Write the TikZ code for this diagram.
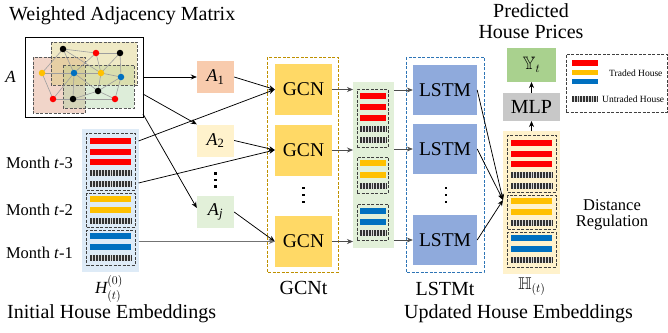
\documentclass[tikz,border=0pt]{standalone}
\usepackage{fontspec}
\usepackage{amssymb}
\setmainfont{Liberation Serif}
\usetikzlibrary{arrows.meta}

\definecolor{tradered}{RGB}{255,0,0}
\definecolor{tradeyel}{RGB}{255,192,0}
\definecolor{tradeblue}{RGB}{0,112,192}
\definecolor{gcnc}{RGB}{255,217,102}
\definecolor{lstmc}{RGB}{143,170,220}
\definecolor{mlpc}{RGB}{200,200,200}
\definecolor{outc}{RGB}{169,209,142}
\definecolor{aone}{RGB}{248,203,173}
\definecolor{atwo}{RGB}{255,242,204}
\definecolor{aj}{RGB}{226,240,217}
\definecolor{lpanel}{RGB}{222,235,247}
\definecolor{mpanel}{RGB}{226,240,217}
\definecolor{rpanel}{RGB}{255,242,204}
\definecolor{gcnline}{RGB}{191,144,0}
\definecolor{lstmline}{RGB}{46,117,182}
\definecolor{regyel}{RGB}{215,200,110}
\definecolor{regpink}{RGB}{220,150,120}
\definecolor{reggreen}{RGB}{170,210,160}

% rectangle node from its top-left and bottom-right corners
\newcommand\rnode[6]{\node[#1,anchor=north west,minimum width={(#5)-(#3)},minimum height={(#6)-(#4)},inner sep=0pt,outer sep=0pt] (#2) at ({#3},{#4}) {};}
% coloured bar: colour, x-left, x-right, y-centre
\newcommand\housebar[4]{\fill[#1] ({#2},{#4-2.8}) rectangle ({#3},{#4+2.8});}
% barcode strip: x-left, y-centre, number of strokes, stroke spacing
\newcommand\housecode[4]{%
  \fill[gray!30] ({#1},{#2-2.8}) rectangle ({#1+#3*#4},{#2+2.8});
  \foreach \k in {0,...,#3} {\draw[black!80,line width=0.55pt] ({#1+\k*#4},{#2-2.8}) -- ++(0,5.6);}}
% large embedding stack: name, panel left x, panel top y, panel colour
\newcommand\bigstack[4]{%
  \rnode{fill=#4}{#1}{#2}{#3}{#2+57}{#3+143}
  \rnode{dbox}{#1a}{#2+4.5}{#3+4}{#2+53}{#3+61}
  \rnode{dbox}{#1b}{#2+4.5}{#3+64}{#2+53}{#3+98}
  \rnode{dbox}{#1c}{#2+4.5}{#3+101}{#2+53}{#3+136}
  \foreach \d in {12,23,33} {\housebar{tradered}{#2+8}{#2+49}{#3+\d}}
  \foreach \d in {70,81} {\housebar{tradeyel}{#2+8}{#2+49}{#3+\d}}
  \foreach \d in {107,118} {\housebar{tradeblue}{#2+8}{#2+49}{#3+\d}}
  \foreach \d in {44,55,92,129} {\housecode{#2+8}{#3+\d}{27}{1.52}}
}

\tikzset{
  arr/.style={-{Stealth[length=6pt,width=5pt]},line width=0.75pt},
  garr/.style={arr,draw=black!70},
  dbox/.style={draw=black!75,dash pattern=on 3pt off 1.5pt,line width=0.9pt},
  regbox/.style={draw=black!65,dash pattern=on 3pt off 1.5pt,line width=1pt,fill opacity=0.4},
  abox/.style={minimum width=37,minimum height=32,inner sep=0pt,font=\fontsize{18}{18}\selectfont},
  gcnbox/.style={fill=gcnc,minimum width=57,minimum height=51,inner sep=0pt,font=\fontsize{19.5}{20}\selectfont},
  lstmbox/.style={fill=lstmc,minimum width=64,minimum height=50,inner sep=0pt,font=\fontsize{19.5}{20}\selectfont},
  biglabel/.style={inner sep=0pt,font=\fontsize{20}{22}\selectfont},
  midlabel/.style={inner sep=0pt,font=\fontsize{16.5}{18}\selectfont},
  smalllabel/.style={inner sep=0pt,font=\fontsize{9.5}{11}\selectfont},
  gedge/.style={draw=black!38,line width=0.6pt},
  gdot/.style={circle,inner sep=0pt,minimum size=6.5pt},
}

\begin{document}
\begin{tikzpicture}[x=1pt,y=-1pt]
\useasboundingbox (0,0) rectangle (668,332);

% ---------- weighted adjacency matrix ----------
\node[biglabel,anchor=base west] (title) at (9,20) {Weighted Adjacency Matrix};
\node[inner sep=0pt,font=\fontsize{17}{17}\selectfont\itshape] (alabel) at (10.5,77) {A};
\node[draw,fill=white,line width=0.8pt,minimum width=118,minimum height=80,inner sep=0pt] (mat) at (84,77) {};
\fill[regbox,fill=regpink] (33,57) rectangle (85,113);
\fill[regbox,fill=reggreen] (63,65) rectangle (134,108);
\fill[regbox,fill=regyel] (51,42) rectangle (137,85);
\draw[dbox,draw=black!65] (33,57) rectangle (85,113);
\draw[dbox,draw=black!65] (63,65) rectangle (134,108);
\draw[dbox,draw=black!65] (51,42) rectangle (137,85);

\coordinate (n1) at (63,49);   \coordinate (n2) at (96,53);
\coordinate (n3) at (120,53);  \coordinate (n4) at (42,73);
\coordinate (n5) at (74,73);   \coordinate (n6) at (101,73);
\coordinate (n7) at (121,77);  \coordinate (n8) at (98,91);
\coordinate (n9) at (53,99);   \coordinate (n10) at (73,99);
\coordinate (n11) at (115,99);
\foreach \a/\b in {n1/n2,n2/n3,n1/n4,n1/n5,n1/n6,n2/n6,n2/n5,n3/n6,n3/n7,
                   n4/n5,n5/n6,n6/n7,n4/n9,n5/n9,n5/n10,n5/n8,n6/n8,n7/n8,
                   n7/n11,n8/n10,n9/n10,n8/n11,n10/n11}
  {\draw[gedge] (\a) -- (\b);}
\foreach \n/\c in {n1/black,n2/tradered,n3/black,n4/tradeyel,n5/tradeblue,n6/tradeyel,
                   n7/tradeblue,n8/black,n9/tradered,n10/black,n11/tradered}
  {\node[gdot,fill=\c] at (\n) {};}

% ---------- per-relation adjacency matrices ----------
\node[abox,fill=aone] (a1) at (215.5,77) {\textit{A}\textsubscript{1}};
\node[abox,fill=atwo] (a2) at (215.5,140.5) {\textit{A}\textsubscript{2}};
\node[abox,fill=aj] (aj) at (215.5,212) {\textit{A}\textsubscript{\textit{j}}};
\foreach \yy in {173.5,180,186.5} {\fill (214.3,\yy-1.3) rectangle (216.9,\yy+1.3);}

% ---------- initial house embeddings ----------
\bigstack{lp}{82}{129}{lpanel}
\node[midlabel,anchor=base east] (m3) at (73,168) {Month \textit{t}-3};
\node[midlabel,anchor=base east] (m2) at (73,215) {Month \textit{t}-2};
\node[midlabel,anchor=base east] (m1) at (73,258) {Month \textit{t}-1};
\node[inner sep=0pt,font=\fontsize{17}{17}\selectfont] (h0) at (109,289) {$\mathit{H}^{(0)}_{(t)}$};
\node[biglabel,anchor=base west] (initlabel) at (7,318) {Initial House Embeddings};

% ---------- GCN block ----------
\draw[draw=gcnline,dash pattern=on 3pt off 1.5pt,line width=0.9pt] (267,57) rectangle (338,272);
\node[gcnbox] (g1) at (303.5,89.5) {GCN};
\node[gcnbox] (g2) at (303.5,150) {GCN};
\node[gcnbox] (g3) at (303.5,241.5) {GCN};
\foreach \yy in {188,195,202} {\fill (302.2,\yy-1.3) rectangle (304.8,\yy+1.3);}
\node[biglabel,anchor=base] (gcnt) at (303.5,294) {GCNt};

% ---------- intermediate embeddings ----------
\rnode{fill=mpanel}{mp}{353}{82}{394}{248}
\rnode{dbox}{mpa}{357}{89}{388}{147}
\rnode{dbox}{mpb}{357}{157}{388}{193}
\rnode{dbox}{mpc}{357}{204}{388}{240}
\foreach \yy in {96,107,118} {\housebar{tradered}{360}{386}{\yy}}
\foreach \yy in {163,175} {\housebar{tradeyel}{360}{386}{\yy}}
\foreach \yy in {211,222} {\housebar{tradeblue}{360}{386}{\yy}}
\foreach \yy in {129,140,186,233} {\housecode{360}{\yy}{17}{1.53}}

% ---------- LSTM block ----------
\draw[draw=lstmline,dash pattern=on 3pt off 1.5pt,line width=0.9pt] (406,57) rectangle (484,272);
\node[lstmbox] (l1) at (445,90) {LSTM};
\node[lstmbox] (l2) at (445,149) {LSTM};
\node[lstmbox] (l3) at (445,240) {LSTM};
\foreach \yy in {188,195,202} {\fill (444.7,\yy-1.3) rectangle (447.3,\yy+1.3);}
\node[biglabel,anchor=base] (lstmt) at (445,295) {LSTMt};

% ---------- updated embeddings and prediction ----------
\bigstack{rp}{503}{131}{rpanel}
\node[inner sep=0pt,font=\fontsize{17}{17}\selectfont] (hh) at (532,287) {$\mathbb{H}_{(t)}$};
\node[biglabel,anchor=base] (updlabel) at (518.5,318) {Updated House Embeddings};
\node[midlabel,align=center,anchor=base] (dist) at (612,210) {Distance};
\node[midlabel,align=center,anchor=base] (reg) at (612,226) {Regulation};

\rnode{fill=mlpc}{mlpbg}{503}{93}{560}{121}
\node[inner sep=0pt,font=\fontsize{20}{20}\selectfont] (mlp) at (mlpbg) {MLP};
\rnode{fill=outc}{yt}{507}{48}{556}{82}
\node[inner sep=0pt,font=\fontsize{18}{18}\selectfont] (ytext) at (yt) {$\mathbb{Y}_t$};
\node[biglabel,anchor=base] (pred1) at (531,17) {Predicted};
\node[biglabel,anchor=base] (pred2) at (531,38) {House Prices};

% ---------- legend ----------
\rnode{dbox}{legend}{566}{54}{667}{112}
\housebar{tradered}{572}{598}{63}
\housebar{tradeyel}{572}{598}{72.5}
\housebar{tradeblue}{572}{598}{81.5}
\housecode{572}{99}{16}{1.56}
\node[smalllabel,anchor=west] (traded) at (609,73) {Traded House};
\node[smalllabel,anchor=west] (untraded) at (602,99) {Untraded House};

% ---------- connectors ----------
\coordinate (m2out) at (143,94);
\coordinate (mjout) at (143,114);
\coordinate (lpo1) at (138.5,141);
\coordinate (lpo2) at (138.5,183);
\coordinate (lpo3) at (138.5,241.5);
\coordinate (merge) at (503,200);

\draw[arr] (mat.east) -- (a1.west);
\draw[arr] (m2out) -- (a2.north west);
\draw[arr] (mjout) -- ([yshift=4pt]aj.west);
\draw[arr] (a1.east) -- (g1.west);
\draw[arr] (a2.east) -- (g2.west);
\draw[arr] (aj.east) -- (g3.west);
\draw[arr] (lpo1) -- (g1.west);
\draw[arr] (lpo2) -- (g2.west);
\draw[arr,draw=black!55,line width=1.2pt] (lpo3) -- (g3.west);

\draw[garr] (g1.east) -- (g1.east -| mp.west);
\draw[garr] (g2.east) -- (g2.east -| mp.west);
\draw[garr] (g3.east) -- (g3.east -| mp.west);
\draw[garr] (l1.west -| mp.east) -- (l1.west);
\draw[garr] (l2.west -| mp.east) -- (l2.west);
\draw[garr] (l3.west -| mp.east) -- (l3.west);

\draw[arr] (l1.east) -- (merge);
\draw[arr] (l2.east) -- (merge);
\draw[arr] (l3.east) -- (merge);

\draw[arr] (rp.north) -- (mlpbg.south);
\draw[arr] (mlpbg.north) -- (yt.south);
\end{tikzpicture}
\end{document}
